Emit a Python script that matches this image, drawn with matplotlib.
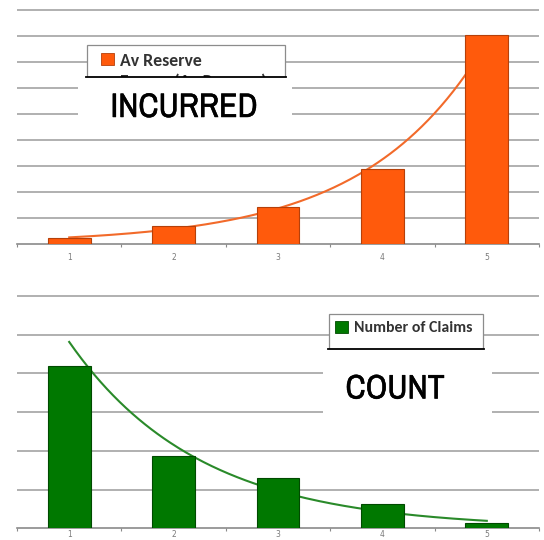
import numpy as np
import matplotlib
matplotlib.use("Agg")
import matplotlib.pyplot as plt
import matplotlib.patheffects as pe
from matplotlib.patches import Rectangle
from matplotlib.lines import Line2D

# claim development bands
bands = [1, 2, 3, 4, 5]
tick_labels = ["1", "2", "3", "4", "5"]
av_reserve = [0.21, 0.67, 1.41, 2.86, 8.05]
num_claims = [4.2, 1.87, 1.3, 0.63, 0.13]

W, H = 544, 540
ORANGE = "#ff5a0c"
ORANGE_EDGE = "#b5400a"
ORANGE_LINE = "#f26a2a"
GREEN = "#007800"
GREEN_EDGE = "#004a00"
GREEN_LINE = "#2a8a2a"
GRID = "#a3a3a3"
LEGEND_FONT = ["Carlito", "Open Sans", "DejaVu Sans"]
CAPTION_FONT = ["Archivo Narrow", "Liberation Sans"]


def fx(x):
    return x / W


def fy(y):
    return 1 - y / H


def expon_fit(x, y):
    # excel style exponential trendline: least squares on ln(y)
    slope, icpt = np.polyfit(x, np.log(y), 1)
    xs = np.linspace(min(x), max(x), 200)
    return xs, np.exp(icpt + slope * xs)


def panel(rect, values, ymax, color, edge, line_color, pad):
    ax = fig.add_axes(rect)
    x = np.array(bands, dtype=float)
    xs, ys = expon_fit(x, np.array(values))
    ax.plot(xs, ys, color=line_color, lw=1.5, zorder=2)
    ax.bar(x, values, width=0.41, color=color, edgecolor=edge,
           linewidth=0.8, zorder=3)
    ax.set_xlim(0.5, 5.5)
    ax.set_ylim(0, ymax)
    ax.set_yticks(np.arange(1, int(ymax) + 1))
    ax.yaxis.grid(True, color=GRID, lw=1.2)
    ax.set_axisbelow(True)
    for s in ["left", "right", "top"]:
        ax.spines[s].set_visible(False)
    ax.spines["bottom"].set_color("#8a8a8a")
    ax.spines["bottom"].set_linewidth(1.2)
    ax.tick_params(axis="y", left=False, labelleft=False)
    ax.set_xticks(bands)
    ax.set_xticklabels(tick_labels)
    ax.set_xticks(np.arange(0.5, 6, 1), minor=True)
    ax.tick_params(axis="x", which="major", length=0, labelsize=5.5,
                   labelcolor="#7a7a7a", pad=pad)
    ax.tick_params(axis="x", which="minor", length=2.5, color="#8a8a8a",
                   width=0.8)
    return ax


def rect_px(x0, y0, x1, y1, **kw):
    # rectangle given by pixel corners (top-left origin)
    fig.add_artist(Rectangle((fx(x0), fy(y1)), fx(x1) - fx(x0),
                             fy(y0) - fy(y1), transform=fig.transFigure, **kw))


def legend_box(box, entries, size):
    x0, y0, x1, y1 = box
    rect_px(x0, y0, x1, y1, facecolor="white", edgecolor="#8c8c8c",
            lw=0.9, zorder=15)
    for kind, color, edge, sx, sy, label in entries:
        if kind == "patch":
            rect_px(sx, sy - 6, sx + 13, sy + 6, facecolor=color,
                    edgecolor=edge, lw=0.6, zorder=16)
        else:
            fig.add_artist(Line2D([fx(sx), fx(sx + 13)], [fy(sy), fy(sy)],
                                  transform=fig.transFigure, color=color,
                                  lw=1.5, zorder=16))
        fig.text(fx(sx + 19), fy(sy), label, va="center_baseline",
                 fontsize=size, weight="bold", color="#333333",
                 family=LEGEND_FONT, zorder=17)


fig = plt.figure(figsize=(W / 100, H / 100), dpi=100)

# top panel: average reserve, 25.9 px per unit
top_ymax = 9.1
ax1 = panel([fx(17), fy(243.5), fx(539) - fx(17), top_ymax * 25.9 / H],
            av_reserve, top_ymax, ORANGE, ORANGE_EDGE, ORANGE_LINE, 7)

# bottom panel: claim counts, 38.7 px per unit
bot_ymax = 6.08
ax2 = panel([fx(17), fy(528.3), fx(539) - fx(17), bot_ymax * 38.7 / H],
            num_claims, bot_ymax, GREEN, GREEN_EDGE, GREEN_LINE, 1.5)

legend_box((87, 45, 285, 110),
           [("patch", ORANGE, ORANGE_EDGE, 101, 59.5, "Av Reserve"),
            ("line", ORANGE_LINE, None, 101, 80, "Expon. (Av Reserve)")],
           12.8)
legend_box((329, 314, 483, 380),
           [("patch", GREEN, GREEN_EDGE, 335, 327, "Number of Claims")],
           11.4)

# white caption boxes laid over the lower part of each legend
for x0, x1, y0, y1, lx0, lx1, text, tx, ty in [
        (78, 292, 77, 130, 86, 286, "INCURRED", 184, 117),
        (323, 492, 349, 426, 328, 484, "COUNT", 395, 398.5)]:
    rect_px(x0, y0, x1, y1, facecolor="white", edgecolor="none", zorder=20)
    fig.add_artist(Line2D([fx(lx0), fx(lx1)], [fy(y0), fy(y0)],
                          transform=fig.transFigure, color="black",
                          lw=1.3, zorder=21))
    fig.text(fx(tx), fy(ty), text, ha="center", va="baseline", fontsize=24.5,
             family=CAPTION_FONT, color="black", zorder=22,
             path_effects=[pe.withStroke(linewidth=0.35, foreground="black")])

fig.savefig("out.png", dpi=100)
